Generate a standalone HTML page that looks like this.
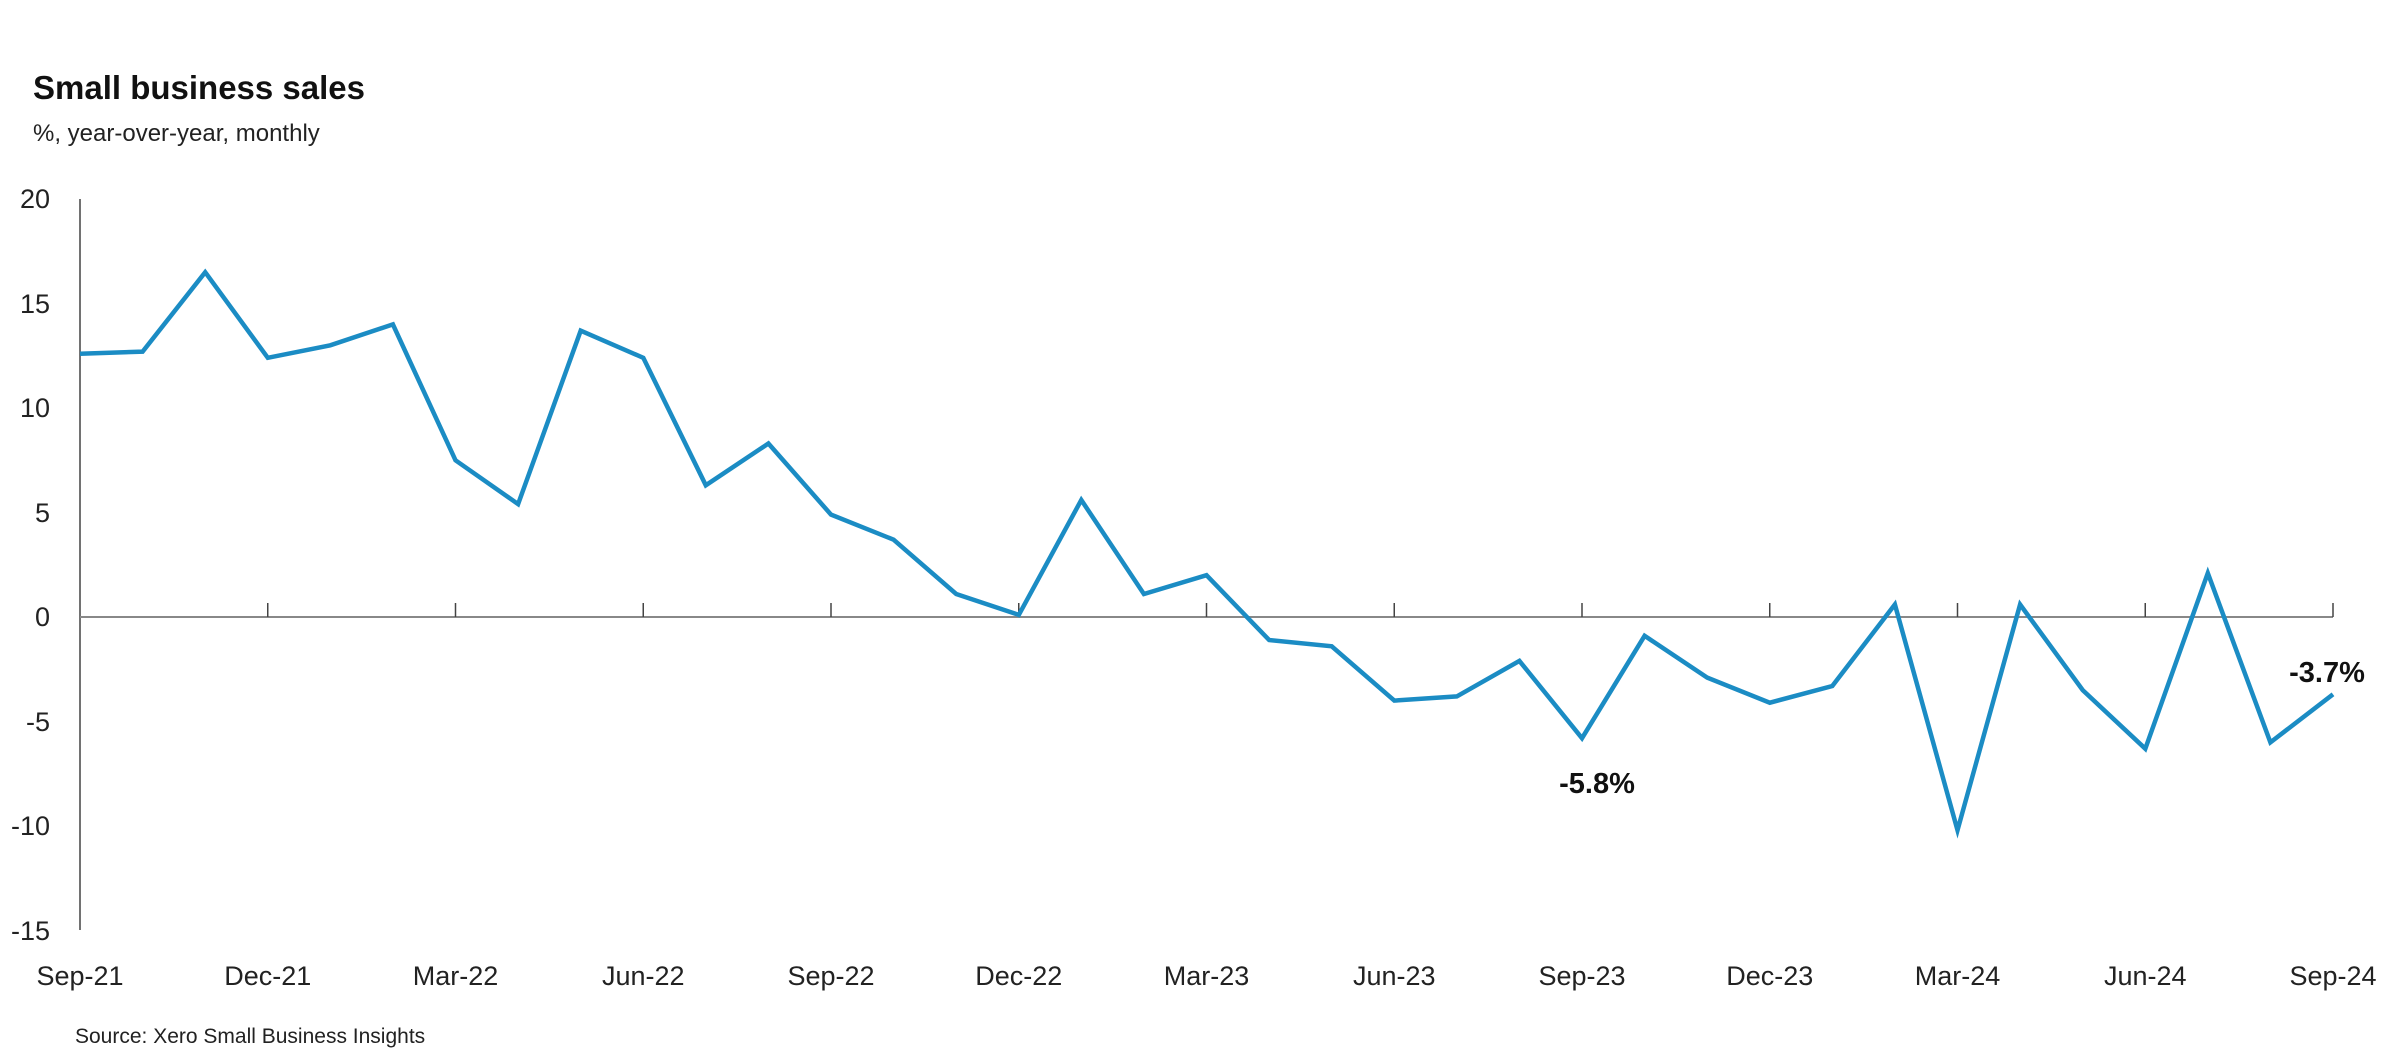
<!DOCTYPE html>
<html><head><meta charset="utf-8"><style>
html,body{margin:0;padding:0;background:#fff;}
svg{display:block;font-family:"Liberation Sans",sans-serif;}
</style></head><body>
<svg width="2400" height="1062" viewBox="0 0 2400 1062" xmlns="http://www.w3.org/2000/svg">
<text x="33" y="99" font-size="33" font-weight="bold" fill="#111">Small business sales</text>
<text x="33" y="141" font-size="24" fill="#222">%, year-over-year, monthly</text>
<g font-size="27" fill="#222" text-anchor="end">
<text x="50" y="208">20</text>
<text x="50" y="313">15</text>
<text x="50" y="417">10</text>
<text x="50" y="522">5</text>
<text x="50" y="626">0</text>
<text x="50" y="731">-5</text>
<text x="50" y="835">-10</text>
<text x="50" y="940">-15</text>
</g>
<line x1="80" y1="199" x2="80" y2="930" stroke="#444" stroke-width="1.5"/>
<line x1="80" y1="617" x2="2333" y2="617" stroke="#888" stroke-width="2"/>
<g stroke="#444" stroke-width="1.5" id="ticks"></g>
<g font-size="27" fill="#222" text-anchor="middle" id="xl"></g>
<polyline id="ln" fill="none" stroke="#1b8cc4" stroke-width="4.5" stroke-linejoin="miter" points=""/>
<text x="1597" y="793" font-size="29" font-weight="bold" text-anchor="middle" fill="#111">-5.8%</text>
<text x="2327" y="682" font-size="29" font-weight="bold" text-anchor="middle" fill="#111">-3.7%</text>
<text x="75" y="1043" font-size="21" fill="#222">Source: Xero Small Business Insights</text>
</svg>
<script>
var d=[12.6,12.7,16.5,12.4,13.0,14.0,7.5,5.4,13.7,12.4,6.3,8.3,4.9,3.7,1.1,0.1,5.6,1.1,2.0,-1.1,-1.4,-4.0,-3.8,-2.1,-5.8,-0.9,-2.9,-4.1,-3.3,0.6,-10.2,0.6,-3.5,-6.3,2.1,-6.0,-3.7];
var x0=80,dx=(2333-80)/36,y0=617,k=104.5/5,p=[];
d.forEach(function(v,i){p.push((x0+i*dx).toFixed(1)+","+(y0-v*k).toFixed(1));});
document.getElementById('ln').setAttribute('points',p.join(' '));
var ns="http://www.w3.org/2000/svg",t=document.getElementById('ticks'),xl=document.getElementById('xl');
var labs=["Sep-21","Dec-21","Mar-22","Jun-22","Sep-22","Dec-22","Mar-23","Jun-23","Sep-23","Dec-23","Mar-24","Jun-24","Sep-24"];
for(var i=0;i<13;i++){var x=x0+i*3*dx;
if(i>0){var l=document.createElementNS(ns,'line');l.setAttribute('x1',x);l.setAttribute('x2',x);l.setAttribute('y1',603);l.setAttribute('y2',617);t.appendChild(l);}
var tx=document.createElementNS(ns,'text');tx.setAttribute('x',x);tx.setAttribute('y',985);tx.textContent=labs[i];xl.appendChild(tx);}
</script>
</body></html>
